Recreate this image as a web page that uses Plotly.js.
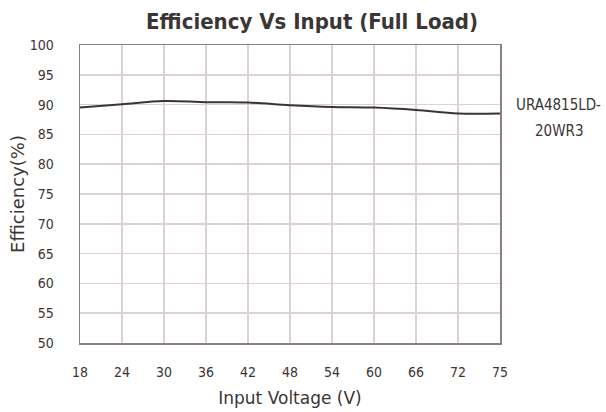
<!DOCTYPE html>
<html>
<head>
<meta charset="utf-8">
<script src="https://cdn.plot.ly/plotly-3.0.1.min.js"></script>
<style>html,body{margin:0;padding:0;background:#fff;}#chart{width:606px;height:412px;}</style>
</head>
<body>
<div id="chart"></div>
<script>
var voltages = ["18","24","30","36","42","48","54","60","66","72","75"];
var efficiency = [89.5, 90.05, 90.6, 90.4, 90.35, 89.9, 89.6, 89.5, 89.1, 88.5, 88.5];
var seriesLine1 = "URA4815LD-";
var seriesLine2 = "20WR3";
var yTicks = [50,55,60,65,70,75,80,85,90,95,100];

var condFam = "'DejaVu Sans Condensed', 'DejaVu Sans', sans-serif";
var wideFam = "'DejaVu Sans', sans-serif";
var txtColor = "#3b3535";

var trace = {
  x: voltages, y: efficiency, type: "scatter", mode: "lines",
  line: {color: "#3a3434", width: 2, shape: "spline", smoothing: 1},
  name: seriesLine1 + seriesLine2, showlegend: false, hoverinfo: "none"
};

var layout = {
  width: 606, height: 412,
  margin: {l: 80, r: 106, t: 45, b: 69, autoexpand: false},
  paper_bgcolor: "#ffffff", plot_bgcolor: "#ffffff",
  font: {family: condFam, color: txtColor, size: 14},
  title: {text: "Efficiency Vs Input (Full Load)", x: 0.515, xanchor: "center", y: 0.968, yanchor: "top",
          font: {family: condFam, size: 22, color: txtColor, weight: "bold"}},
  xaxis: {
    type: "category", range: [0, 10], tickvals: voltages, ticktext: voltages,
    showgrid: true, gridcolor: "#ddd2d2", gridwidth: 1.5,
    showline: true, linecolor: "#8c8080", linewidth: 1.5, mirror: true,
    ticks: "", ticklen: 0, ticklabelstandoff: 16, tickfont: {size: 14, color: txtColor},
    title: {text: "Input Voltage (V)", font: {family: wideFam, size: 17, color: txtColor}, standoff: 13},
    automargin: false, zeroline: false, fixedrange: true
  },
  yaxis: {
    range: [50, 100], tickvals: yTicks,
    showgrid: true, gridcolor: "#ddd2d2", gridwidth: 1.5,
    showline: true, linecolor: "#8c8080", linewidth: 1.5, mirror: true,
    ticks: "", ticklabelstandoff: 22, tickfont: {size: 14, color: txtColor},
    title: {text: "Efficiency(%)", font: {family: wideFam, size: 18, color: txtColor}, standoff: 0},
    automargin: false, zeroline: false, fixedrange: true
  },
  annotations: [
    {text: seriesLine1, xref: "paper", yref: "paper", x: 1.14, y: 0.797,
     xanchor: "center", yanchor: "middle", showarrow: false, font: {size: 15, color: txtColor}},
    {text: seriesLine2, xref: "paper", yref: "paper", x: 1.14, y: 0.71,
     xanchor: "center", yanchor: "middle", showarrow: false, font: {size: 15, color: txtColor}}
  ]
};

Plotly.newPlot("chart", [trace], layout, {staticPlot: true, displayModeBar: false});
</script>
</body>
</html>
